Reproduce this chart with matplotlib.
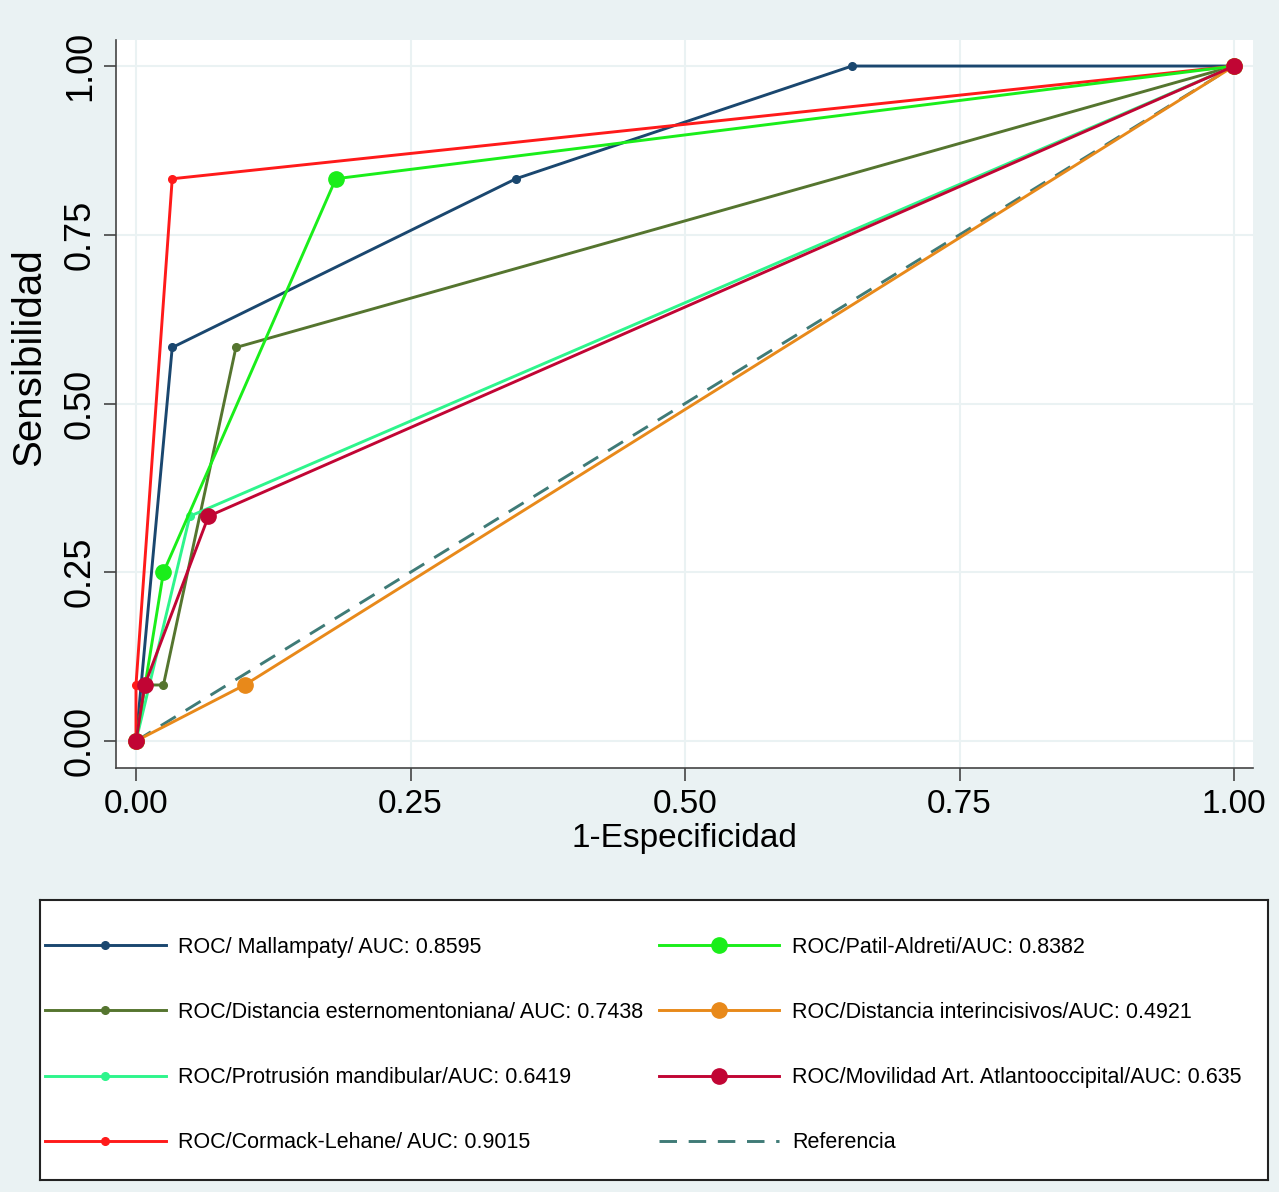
import matplotlib
matplotlib.use("Agg")
import matplotlib.pyplot as plt

# Curvas ROC (1-especificidad, sensibilidad)
mallampaty_x = [0, 0.033, 0.346, 0.652, 1]
mallampaty_y = [0, 0.583, 0.833, 1.0, 1]

esterno_x = [0, 0.008, 0.025, 0.091, 1]
esterno_y = [0, 0.083, 0.083, 0.583, 1]

protrusion_x = [0, 0.049, 1]
protrusion_y = [0, 0.333, 1]

cormack_x = [0, 0, 0.033, 1]
cormack_y = [0, 0.083, 0.833, 1]

patil_x = [0, 0.025, 0.182, 1]
patil_y = [0, 0.25, 0.833, 1]

interinc_x = [0, 0.099, 1]
interinc_y = [0, 0.083, 1]

movilidad_x = [0, 0.008, 0.066, 1]
movilidad_y = [0, 0.083, 0.333, 1]

ref_x = [0, 1]
ref_y = [0, 1]

labels = [
    "ROC/ Mallampaty/ AUC: 0.8595",
    "ROC/Distancia esternomentoniana/ AUC: 0.7438",
    "ROC/Protrusión mandibular/AUC: 0.6419",
    "ROC/Cormack-Lehane/ AUC: 0.9015",
    "ROC/Patil-Aldreti/AUC: 0.8382",
    "ROC/Distancia interincisivos/AUC: 0.4921",
    "ROC/Movilidad Art. Atlantooccipital/AUC: 0.635",
    "Referencia",
]

ticks = [0, 0.25, 0.5, 0.75, 1.0]
tick_labels = ["0.00", "0.25", "0.50", "0.75", "1.00"]

bg = "#eaf2f3"
fuente = ["Liberation Sans", "DejaVu Sans"]

fig = plt.figure(figsize=(12.79, 11.92), dpi=100, facecolor=bg)
ax = fig.add_axes([0.0907, 0.3557, 0.889, 0.6107])
ax.set_facecolor("white")

lw = 2.1
small = 5.5
big = 11

series = [
    (mallampaty_x, mallampaty_y, "#1a476f", small),
    (esterno_x, esterno_y, "#55752f", small),
    (protrusion_x, protrusion_y, "#2ef58c", small),
    (cormack_x, cormack_y, "#ff1a1a", small),
    (patil_x, patil_y, "#1aee1a", big),
    (interinc_x, interinc_y, "#e8891a", big),
    (movilidad_x, movilidad_y, "#c10534", big),
]

handles = []
for i, (xs, ys, c, ms) in enumerate(series):
    h, = ax.plot(xs, ys, "-o", color=c, lw=lw, ms=ms, mec=c, mfc=c,
                 label=labels[i], zorder=3 + i * 0.1)
    handles.append(h)

h, = ax.plot(ref_x, ref_y, color="#3f7b77", lw=lw, ls=(0, (6, 4)),
             label=labels[-1], zorder=2.5)
handles.append(h)

ax.set_xlim(-0.0182, 1.0173)
ax.set_ylim(-0.04, 1.0385)
ax.set_xticks(ticks)
ax.set_xticklabels(tick_labels, fontsize=24, family=fuente)
ax.set_yticks(ticks)
ax.set_yticklabels(tick_labels, rotation=90, va="center", fontsize=26, family=fuente)
ax.grid(True, color=bg, lw=1.5, zorder=0)
ax.set_axisbelow(True)
for s in ["top", "right"]:
    ax.spines[s].set_visible(False)
for s in ["left", "bottom"]:
    ax.spines[s].set_color("#444444")
    ax.spines[s].set_linewidth(1.2)
ax.tick_params(direction="out", length=9, width=1.2, color="#444444", pad=6)
ax.tick_params(axis="y", pad=4)
ax.set_xlabel("1-Especificidad", fontsize=24, family=fuente, labelpad=2)
ax.set_ylabel("Sensibilidad", fontsize=29, family=fuente)
ax.yaxis.set_label_coords(-0.06, 0.565)

# caja de la leyenda
lax = fig.add_axes([0.0313, 0.0101, 0.9601, 0.235])
lax.set_facecolor("white")
lax.set_xticks([])
lax.set_yticks([])
for s in lax.spines.values():
    s.set_color("#222222")
    s.set_linewidth(1.5)

kw = dict(prop={"family": fuente, "size": 15.5}, frameon=False,
          handlelength=5.6, handletextpad=0.6, labelspacing=2.05,
          borderpad=0, borderaxespad=0, loc="upper left")
leg1 = lax.legend(handles=handles[:4], bbox_to_anchor=(0.004, 0.868), **kw)
lax.add_artist(leg1)
lax.legend(handles=handles[4:], bbox_to_anchor=(0.504, 0.868), **kw)

fig.savefig("out.png", dpi=100, facecolor=bg)
